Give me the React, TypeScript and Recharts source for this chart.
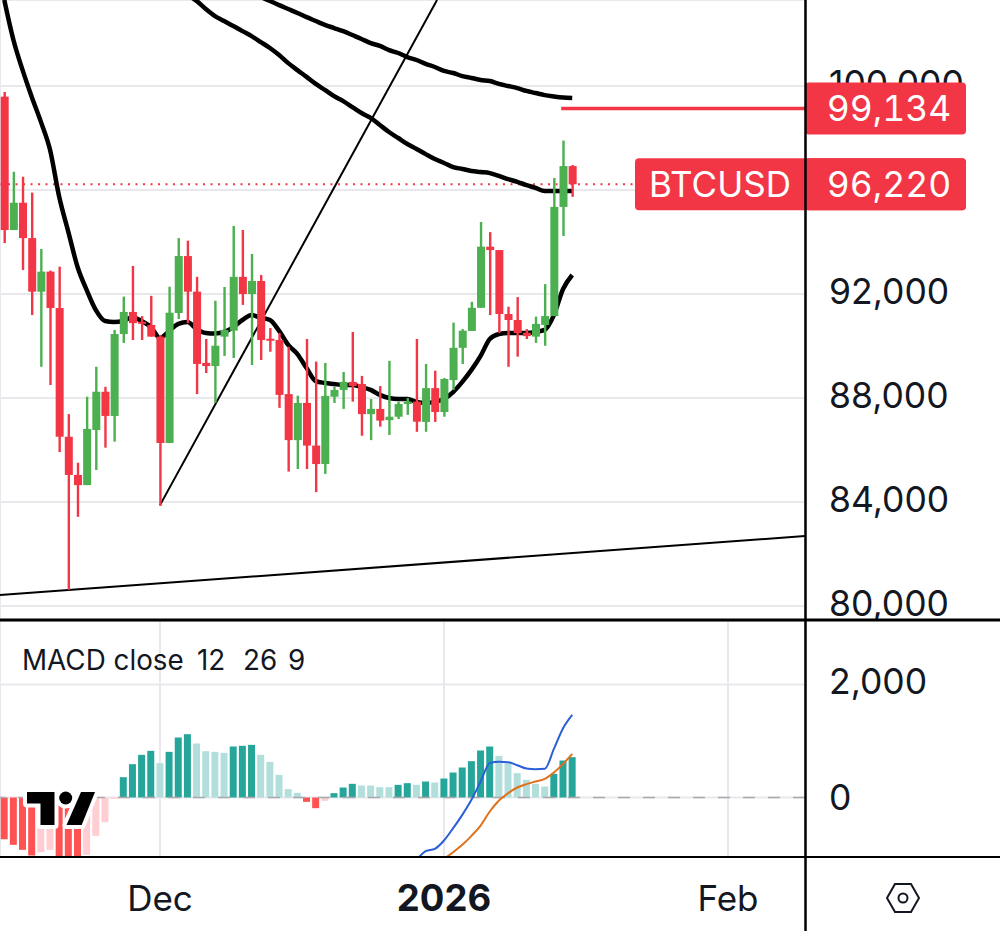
import React from "react";
import { ComposedChart, Bar, Line, XAxis, YAxis, CartesianGrid, ReferenceLine, Cell } from "recharts";

const FIRST_DAY = -17;
const highs = [99770,96700,96510,95900,93730,92900,93050,87380,85510,88050,89200,88430,90620,91900,93080,91150,91930,90420,92280,94150,94050,92660,90270,91740,92270,94620,94460,93540,92730,90690,90500,89970,88090,90270,89400,89350,88430,89000,90540,88850,87960,88460,89430,87860,88000,90270,89310,89050,88770,90900,90650,91700,94770,94380,93690,91510,91880,90650,91130,92380,96460,97900,96960];
const lows = [93960,94460,92920,91190,89200,88500,85920,80620,83430,84650,85230,86090,86320,90120,90230,90230,90360,83850,86270,91040,90880,88150,88960,87810,89620,89540,91580,89270,89460,89780,87620,85170,85270,85270,84380,85080,87810,87580,87860,86550,86380,86900,86580,87190,87350,86700,86700,87080,87280,88310,89310,90580,91470,91190,90500,89200,89590,90270,90120,90010,91150,94230,95740];
const opens = [99590,94460,95510,94150,92090,92860,91460,86510,85040,84650,86770,88240,87310,90460,91310,90930,90810,90360,86270,91270,93460,92090,89350,89230,90360,90590,92660,92000,92500,90280,90230,88150,86380,87810,86170,85460,88050,88310,88620,88540,87380,87580,87150,87280,87770,87860,87080,88380,87460,88690,89930,90580,91470,93820,93690,91230,91000,90510,90360,90810,91150,95350,96920];
const closes = [94460,95510,94150,92090,92860,91460,86510,85040,84650,86810,88240,87310,90460,91310,90880,90850,90360,86270,91280,93460,92090,89310,89230,90010,90620,92660,92000,92500,90230,90200,88120,86380,87810,86170,85460,88080,88310,88620,88460,87380,87580,87130,87280,87770,87860,87090,88380,87460,88730,89930,90590,91470,93820,93690,91230,91000,90500,90380,90850,91150,95350,96920,96220];
const maFast = [103310,101770,100610,99580,98620,97540,95730,94380,93040,92150,91380,90960,90920,90960,91110,90960,90730,90310,90580,90850,90920,90650,90500,90480,90540,90730,91000,91190,91080,91000,90580,90040,89690,89150,88650,88580,88540,88500,88500,88420,88310,88120,88000,87960,87960,87850,87810,87850,87960,88230,88620,89080,89620,90270,90460,90500,90500,90500,90540,90620,91190,92190,92730];
const maMid = [103500,103270,102960,102690,102500,102310,102110,101920,101690,101460,101190,100880,100610,100350,100080,99850,99610,99420,99190,98960,98770,98500,98230,98000,97770,97580,97380,97190,97040,96880,96810,96730,96690,96650,96540,96420,96310,96190,96080,95960,95960,95960,95960];
const maSlow = [103420,103270,103110,102960,102810,102650,102500,102350,102230,102110,101960,101810,101650,101540,101380,101270,101110,101000,100850,100730,100580,100500,100380,100310,100230,100190,100080,100000,99920,99810,99730,99650,99600,99560,99540];
const histogram = [-737,-838,-926,-1027,-968,-926,-1050,-1100,-1150,-1015,-678,-437,-24,360,590,755,826,608,808,1062,1121,956,820,808,790,903,915,932,755,631,401,148,83,-77,-189,-59,77,177,242,212,212,183,183,224,254,224,283,265,336,442,531,643,832,903,737,608,431,313,242,195,419,655,714];
const macdLine = [-1250,-1103,-950,-909,-761,-543,-307,-41,283,608,631,625,572,513,502,507,861,1227,1463];
const signalLine = [-1200,-1086,-968,-838,-679,-496,-248,-53,77,177,236,283,330,443,596,773];

const priceTicks = [80000, 84000, 88000, 92000, 96000, 100000];
const hiddenPriceTick = 96000;
const macdTicks = [0, 2000];
const timeTicks = [0, 31, 62];
const timeLabels = ["Dec", "2026", "Feb"];
const LAST_PRICE = 96220;
const TARGET_PRICE = 99134;
const SYMBOL = "BTCUSD";
const riseLine = [{ x: 0, y: 83880 }, { x: 30.24, y: 103307 }];
const floorLine = [{ x: -17.467, y: 80423 }, { x: 70.41, y: 82692 }];
const targetSegment = [{ x: 43.8, y: TARGET_PRICE }, { x: 70.41, y: TARGET_PRICE }];

const X_DOMAIN = [-17.467, 70.41];
const PRICE_DOMAIN = [79461.5, 103307.7];
const MACD_DOMAIN = [-1053, 3124];

const FONT = "Inter, Roboto, sans-serif";
const RED = "#f23645";
const GREEN = "#4caf50";
const GRID = "#e9e9ed";

const pad = (arr: number[]) => [...Array(highs.length - arr.length).fill(null), ...arr];
const midP = pad(maMid), slowP = pad(maSlow), macdP = pad(macdLine), sigP = pad(signalLine);
const rows = highs.map((h, i) => ({
  day: FIRST_DAY + i, high: h, low: lows[i], open: opens[i], close: closes[i],
  fast: maFast[i], mid: midP[i], slow: slowP[i], hist: histogram[i], macd: macdP[i], signal: sigP[i],
}));

const histColor = (i: number) => {
  const prev = i > 0 ? histogram[i - 1] : 0;
  const cur = histogram[i];
  if (cur >= 0) return prev < cur ? "#26a69a" : "#b2dfdb";
  return prev < cur ? "#ffcdd2" : "#ff5252";
};

const Candle = (p: any) => {
  const { x, y, width, height, payload } = p;
  const k = height / (payload.high - payload.low);
  const yOf = (v: number) => y + (payload.high - v) * k;
  const color = payload.close >= payload.open ? GREEN : RED;
  const top = yOf(Math.max(payload.open, payload.close));
  const bottom = yOf(Math.min(payload.open, payload.close));
  const cx = x + width / 2;
  return (
    <g>
      <rect x={cx - 1.2} y={y} width={2.4} height={height} fill={color} />
      <rect x={cx - 4} y={top} width={8} height={Math.max(bottom - top, 2)} fill={color} />
    </g>
  );
};

const PriceTick = (p: any) =>
  p.payload.value === hiddenPriceTick ? <g /> : (
    <text x={829} y={p.y - p.lift} dominantBaseline="central" fontFamily={FONT} fontSize={35.5} fill="#131722">
      {Number(p.payload.value).toLocaleString("en-US")}
    </text>
  );

const TimeTick = (p: any) => {
  const i = timeTicks.indexOf(p.payload.value);
  return (
    <text x={p.x} y={p.y + 41} textAnchor="middle" dominantBaseline="central" fontFamily={FONT}
      fontSize={i === 1 ? 36.5 : 35} fontWeight={i === 1 ? 700 : 400} fill="#131722">
      {timeLabels[i]}
    </text>
  );
};

const badge = (left: number, text: string, textX: number, y: number, size: number) => (
  <g>
    <rect x={left} y={y - 26} width={966 - left} height={52} rx={4} fill={RED} />
    <text x={textX} y={y} textAnchor="middle" dominantBaseline="central" fontFamily={FONT} fontSize={size} fill="#fff"
      style={{ fontFeatureSettings: "'tnum'", fontVariantNumeric: "tabular-nums" }}>{text}</text>
  </g>
);

const LastLabel = (p: any) => (
  <g>
    {badge(635, SYMBOL, 720, p.viewBox.y, 35)}
    {badge(805, LAST_PRICE.toLocaleString("en-US"), 889, p.viewBox.y, 35.5)}
  </g>
);
const TargetLabel = (p: any) => <g>{badge(805, TARGET_PRICE.toLocaleString("en-US"), 889, p.viewBox.y, 35.5)}</g>;

export default function App() {
  return (
    <div style={{ position: "absolute", left: 0, top: 0, width: 1000, height: 931, background: "#fff", overflow: "hidden" }}>
      <div style={{ position: "absolute", left: 0, top: 0 }}>
        <ComposedChart width={1000} height={620} data={rows} margin={{ top: 0, right: 0, bottom: 0, left: 0 }}>
          <CartesianGrid stroke={GRID} strokeWidth={2} />
          <XAxis dataKey="day" type="number" domain={X_DOMAIN} ticks={timeTicks} allowDataOverflow height={0} tick={false} axisLine={false} tickLine={false} />
          <YAxis orientation="right" type="number" domain={PRICE_DOMAIN} ticks={priceTicks} allowDataOverflow width={195}
            axisLine={false} tickLine={false} interval={0} tick={(p: any) => <PriceTick {...p} lift={2.5} />} />
          <ReferenceLine y={LAST_PRICE} stroke={RED} strokeWidth={2} strokeDasharray="2 5.5" />
          <ReferenceLine segment={floorLine} stroke="#000" strokeWidth={2} ifOverflow="hidden" />
          <ReferenceLine segment={riseLine} stroke="#000" strokeWidth={2} ifOverflow="hidden" />
          <Line dataKey="fast" stroke="#000" strokeWidth={4.5} dot={false} type="monotone" isAnimationActive={false} />
          <Line dataKey="mid" stroke="#000" strokeWidth={4.5} dot={false} type="monotone" isAnimationActive={false} />
          <Line dataKey="slow" stroke="#000" strokeWidth={4.5} dot={false} type="monotone" isAnimationActive={false} />
          <Bar dataKey={(d: any) => [d.low, d.high]} barSize={8} shape={Candle} isAnimationActive={false} {...({ zIndex: 450 } as any)} />
        </ComposedChart>
      </div>

      <div style={{ position: "absolute", left: 0, top: 621 }}>
        <ComposedChart width={1000} height={310} data={rows} margin={{ top: 0, right: 0, bottom: 0, left: 0 }}>
          <CartesianGrid stroke={GRID} strokeWidth={2} />
          <XAxis dataKey="day" type="number" domain={X_DOMAIN} ticks={timeTicks} allowDataOverflow height={74}
            axisLine={false} tickLine={false} tickSize={0} tickMargin={0} interval={0} tick={TimeTick} />
          <YAxis orientation="right" type="number" domain={MACD_DOMAIN} ticks={macdTicks} allowDataOverflow width={195}
            axisLine={false} tickLine={false} interval={0} tick={(p: any) => <PriceTick {...p} lift={p.payload.value === 0 ? 0 : 3} />} />
          <ReferenceLine y={0} stroke="#a9a9ad" strokeWidth={1.5} strokeDasharray="12 13" />
          <Bar dataKey="hist" barSize={7} isAnimationActive={false}>
            {rows.map((_, i) => <Cell key={i} fill={histColor(i)} />)}
          </Bar>
          <Line dataKey="signal" stroke="#e0701a" strokeWidth={2} dot={false} type="monotone" isAnimationActive={false} />
          <Line dataKey="macd" stroke="#2a5fd8" strokeWidth={2} dot={false} type="monotone" isAnimationActive={false} />
        </ComposedChart>
      </div>

      <div style={{ position: "absolute", left: 0, top: 0 }}>
        <ComposedChart width={1000} height={620} data={rows} margin={{ top: 0, right: 0, bottom: 0, left: 0 }}>
          <XAxis dataKey="day" type="number" domain={X_DOMAIN} allowDataOverflow height={0} tick={false} axisLine={false} tickLine={false} />
          <YAxis orientation="right" type="number" domain={PRICE_DOMAIN} allowDataOverflow width={195} tick={false} axisLine={false} tickLine={false} />
          <ReferenceLine segment={targetSegment} stroke={RED} strokeWidth={3.5} ifOverflow="visible" />
          <ReferenceLine y={TARGET_PRICE} stroke="none" ifOverflow="visible" label={TargetLabel} />
          <ReferenceLine y={LAST_PRICE} stroke="none" ifOverflow="visible" label={LastLabel} />
        </ComposedChart>
      </div>

      <svg width={1000} height={931} style={{ position: "absolute", left: 0, top: 0, pointerEvents: "none" }}>
        <line x1={0} x2={1000} y1={620} y2={620} stroke="#000" strokeWidth={3} />
        <line x1={0} x2={1000} y1={857} y2={857} stroke="#000" strokeWidth={2} />
        <line x1={805.5} x2={805.5} y1={0} y2={931} stroke="#000" strokeWidth={2.5} />
        <text y={660} dominantBaseline="central" fontFamily={FONT} fontSize={27.8} fill="#131722">
          <tspan x={22}>MACD close</tspan>
          <tspan x={197}>12</tspan>
          <tspan x={243}>26</tspan>
          <tspan x={288}>9</tspan>
        </text>
        <g fill="#000" stroke="#fff" strokeWidth={8} paintOrder="stroke" strokeLinejoin="round">
          <path d="M27 792H54.5V825H40.5V803.5H27Z" />
          <circle cx={65.7} cy={798} r={6.5} />
          <path d="M81 792H95L81.7 825H66.5Z" />
        </g>
        <path d="M887 898L895 884H911L919 898L911 912H895Z" fill="none" stroke="#131722" strokeWidth={2} />
        <circle cx={903} cy={898} r={4.5} fill="none" stroke="#131722" strokeWidth={2} />
      </svg>
    </div>
  );
}
